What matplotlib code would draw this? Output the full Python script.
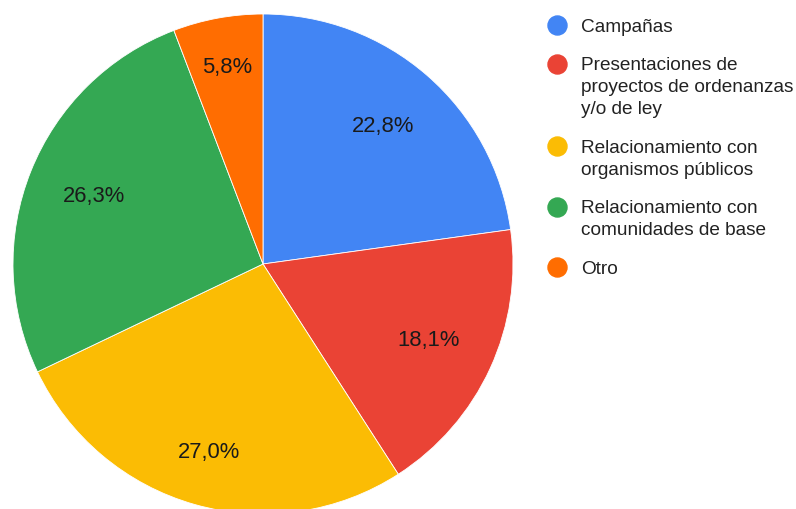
import numpy as np
import matplotlib.pyplot as plt

# Datos
categorias = ['Campañas',
              'Presentaciones de\nproyectos de ordenanzas\ny/o de ley',
              'Relacionamiento con\norganismos públicos',
              'Relacionamiento con\ncomunidades de base',
              'Otro']
valores = [22.8, 18.1, 27.0, 26.3, 5.8]

colores = ['#4285F4', '#EA4335', '#FBBC04', '#34A853', '#FF6D01']
dist_etiqueta = [0.73, 0.73, 0.785, 0.73, 0.80]  # radio relativo de las etiquetas

plt.rcParams['font.family'] = ['Liberation Sans', 'DejaVu Sans']

W, H = 796, 509
fig = plt.figure(figsize=(W / 100, H / 100), dpi=100)
ax = fig.add_axes([0, 0, 1, 1])

cx, cy, r = 263, H - 264, 250
wedges, textos, pcts = ax.pie(valores, colors=colores, startangle=90, counterclock=False,
                              center=(cx, cy), radius=r,
                              autopct=lambda p: f'{p:.1f}%'.replace('.', ','),
                              wedgeprops=dict(edgecolor='white', linewidth=0.6),
                              textprops=dict(fontsize=15.8, color='#1a1a1a'))

# Google coloca las etiquetas de porcentaje a distintas distancias
for w, t, d in zip(wedges, pcts, dist_etiqueta):
    ang = np.radians((w.theta1 + w.theta2) / 2)
    t.set_position((cx + d * r * np.cos(ang), cy + d * r * np.sin(ang)))
    t.set_va('center')
    t.set_ha('center')

ax.set_xlim(0, W)
ax.set_ylim(0, H)
ax.axis('off')

# Leyenda
y = 25
for cat, col in zip(categorias, colores):
    lineas = cat.split('\n')
    ax.plot(557, H - y, 'o', color=col, markersize=13.7, clip_on=False)
    for k, linea in enumerate(lineas):
        ax.text(581, H - (y + 22 * k), linea, fontsize=13.7, color='#222222',
                va='center_baseline', ha='left')
    y += 22 * (len(lineas) - 1) + 38.5

fig.savefig('out.png', dpi=100)
